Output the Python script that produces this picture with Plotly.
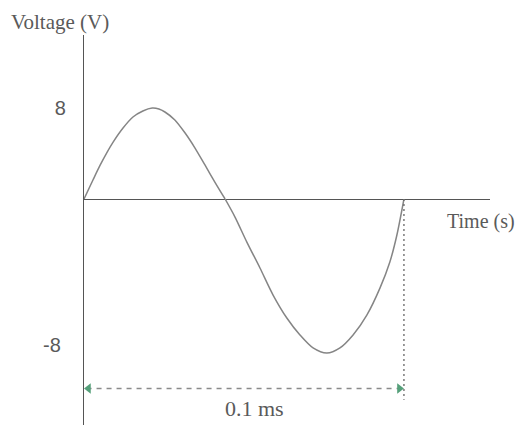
import plotly.graph_objects as go

# Time in ms, voltage in V
t_pos = [0.0, 0.0028, 0.0050, 0.0072, 0.0091, 0.0122, 0.0153, 0.0184, 0.0213, 0.0234, 0.0253, 0.0284, 0.0316, 0.0347, 0.0378, 0.0409, 0.0441]
v_pos = [0.0, 1.67, 2.95, 4.10, 5.00, 6.24, 7.21, 7.74, 8.0, 7.92, 7.65, 6.95, 5.80, 4.48, 2.99, 1.49, 0.0]
t_neg = [0.0441, 0.0472, 0.0509, 0.0550, 0.0591, 0.0634, 0.0675, 0.0716, 0.0759, 0.0800, 0.0841, 0.0884, 0.0925, 0.0956, 0.0978, 0.1000]
v_neg = [0.0, -0.99, -2.36, -3.78, -5.26, -6.52, -7.45, -8.16, -8.44, -8.16, -7.45, -6.36, -4.88, -3.45, -1.97, 0.0]

period_ms = 0.1
period_label = "0.1 ms"
pos_tick = [8]
neg_tick = [-8]
pos_tick_text = ["8"]
neg_tick_text = ["-8"]
marker_y = -10.38
dash_bottom = -11.0

axis_col = "#555555"
curve_col = "#858585"
text_col = "#5a5a5a"
arrow_col = "#55a07a"
serif = "Liberation Serif, Times New Roman, serif"
sans = "Liberation Sans, Arial, sans-serif"

fig = go.Figure()
fig.add_trace(go.Scatter(x=t_pos, y=v_pos, mode="lines",
                         line=dict(color=curve_col, width=1.5, shape="spline", smoothing=0.8),
                         xaxis="x", yaxis="y", hoverinfo="skip"))
fig.add_trace(go.Scatter(x=t_neg, y=v_neg, mode="lines",
                         line=dict(color=curve_col, width=1.5, shape="spline", smoothing=0.8),
                         xaxis="x", yaxis="y2", hoverinfo="skip"))
# vertical dotted line at one period
fig.add_trace(go.Scatter(x=[period_ms, period_ms], y=[0, dash_bottom], mode="lines",
                         line=dict(color="#666666", width=1.3, dash="2px,3px"), yaxis="y2", hoverinfo="skip"))
# horizontal dashed span line
fig.add_trace(go.Scatter(x=[0.0008, period_ms - 0.0008], y=[marker_y, marker_y], mode="lines",
                         line=dict(color="#8a8a8a", width=1.3, dash="5px,5px"), yaxis="y2", hoverinfo="skip"))
fig.add_trace(go.Scatter(x=[0.0014, period_ms - 0.0014], y=[marker_y, marker_y], mode="markers",
                         marker=dict(symbol=["triangle-left", "triangle-right"], size=9, color=arrow_col),
                         yaxis="y2", hoverinfo="skip"))

# figure sits 8px inside the window (page body margin)
zero_frac = (417 - 191) / 390

fig.update_layout(
    width=520, height=417,
    margin=dict(l=76, r=38, t=27, b=0),
    paper_bgcolor="white", plot_bgcolor="white",
    showlegend=False,
    xaxis=dict(range=[0, 0.1269], anchor="y", showline=True, linecolor=axis_col, linewidth=1.3,
               showgrid=False, zeroline=False, showticklabels=False, ticks=""),
    yaxis=dict(domain=[zero_frac, 1], range=[0, 14.42], showline=True, linecolor=axis_col, linewidth=1.3,
               showgrid=False, zeroline=False, tickvals=pos_tick, ticktext=pos_tick_text, ticks="",
               ticklabelstandoff=13, tickfont=dict(family=sans, size=20, color=text_col)),
    yaxis2=dict(domain=[0, zero_frac], range=[-12.38, 0], showline=True, linecolor=axis_col, linewidth=1.3,
                showgrid=False, zeroline=False, tickvals=neg_tick, ticktext=neg_tick_text, ticks="",
                ticklabelstandoff=18, tickfont=dict(family=sans, size=20, color=text_col), anchor="x"),
)

fig.add_annotation(text="Voltage (V)", xref="paper", yref="paper", x=0, y=1, xanchor="left",
                   yanchor="top", xshift=-75, yshift=27, showarrow=False,
                   font=dict(family=serif, size=21, color=text_col))
fig.add_annotation(text="Time (s)", xref="x", yref="y2", x=0.1128, y=0, xanchor="left", yanchor="middle",
                   yshift=-23, showarrow=False, font=dict(family=serif, size=20, color=text_col))
fig.add_annotation(text=period_label, xref="x", yref="y2", x=0.0534, y=marker_y,
                   yanchor="middle", yshift=-20, showarrow=False, font=dict(family=serif, size=22, color=text_col))

fig.write_html("out.html")
